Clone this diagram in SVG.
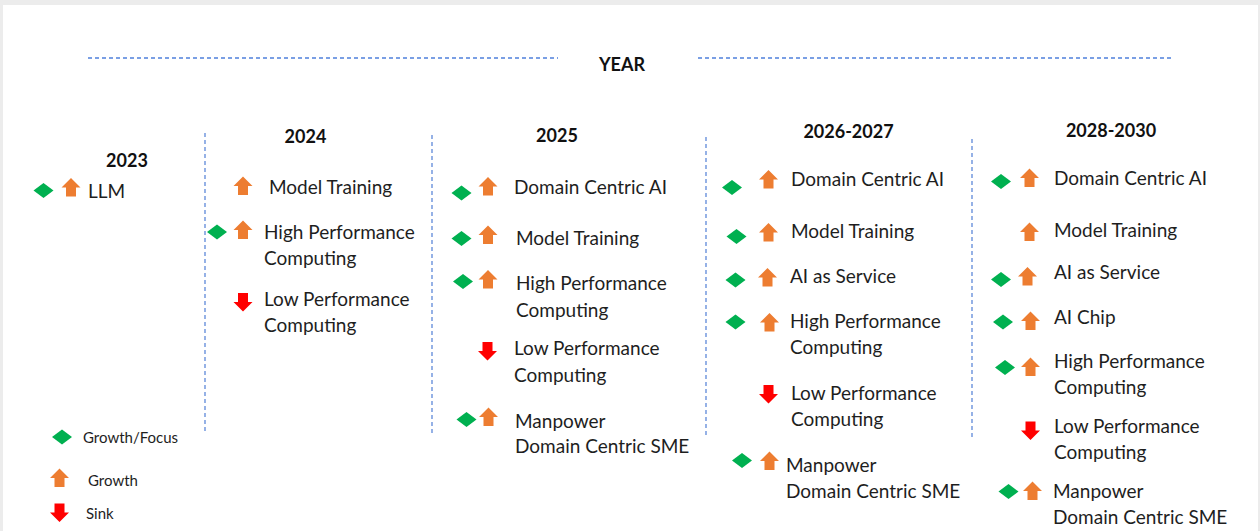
<svg xmlns="http://www.w3.org/2000/svg" width="1260" height="531" viewBox="0 0 1260 531">
  <defs>
    <style>
      .t { font-family: Lato, "Liberation Sans", sans-serif; font-size: 19px; fill: #1e1e1e; }
      .h { font-family: Lato, "Liberation Sans", sans-serif; font-size: 18px; font-weight: bold; fill: #111; }
      .lg { font-family: Lato, "Liberation Sans", sans-serif; font-size: 15px; fill: #1e1e1e; }
      .sep { stroke: #7c9fe0; stroke-width: 1.6; stroke-dasharray: 4 3; fill: none; }
      .axis { stroke: #4f80dc; stroke-width: 1.4; stroke-dasharray: 4 3; fill: none; }
    </style>
    <path id="dia" d="M-10,0 L0,-7.5 L10,0 L0,7.5 Z" fill="#00b050"/>
    <path id="up" d="M0,-9.5 L9.5,0 L5,0 L5,9 L-5,9 L-5,0 L-9.5,0 Z" fill="#ed7d31"/>
    <path id="down" d="M0,9.5 L9.5,0 L5,0 L5,-9 L-5,-9 L-5,0 L-9.5,0 Z" fill="#ff0000"/>
  </defs>

  <!-- page frame -->
  <rect x="0" y="0" width="1260" height="531" fill="#ececec"/>
  <rect x="3" y="5" width="1255" height="526" fill="#ffffff"/>

  <!-- axis and column separators -->
  <g id="connectors">
    <line class="axis" x1="88" y1="58" x2="558" y2="58"/>
    <line class="axis" x1="698" y1="58" x2="1172" y2="58"/>
    <line class="sep" x1="205" y1="133" x2="205" y2="433"/>
    <line class="sep" x1="432" y1="135" x2="432" y2="435"/>
    <line class="sep" x1="706" y1="137" x2="706" y2="436"/>
    <line class="sep" x1="972" y1="139" x2="972" y2="437"/>
  </g>

  <g id="title">
    <text class="h" x="622" y="71" text-anchor="middle">YEAR</text>
  </g>

  <!-- 2023 -->
  <g id="col-2023">
    <text class="h" x="127" y="167" text-anchor="middle">2023</text>
    <use href="#dia" x="43.5" y="190.5"/>
    <use href="#up" x="71" y="187.5"/>
    <text class="t" x="88" y="198">LLM</text>
  </g>

  <!-- 2024 -->
  <g id="col-2024">
    <text class="h" x="305.5" y="143" text-anchor="middle">2024</text>
    <use href="#up" x="243" y="186"/>
    <text class="t" x="269" y="194">Model Training</text>
    <use href="#dia" x="217" y="232"/>
    <use href="#up" x="243" y="230"/>
    <text class="t" x="264" y="239">High Performance</text>
    <text class="t" x="264" y="265">Computing</text>
    <use href="#down" x="243" y="302"/>
    <text class="t" x="264" y="306">Low Performance</text>
    <text class="t" x="264" y="332">Computing</text>
  </g>

  <!-- 2025 -->
  <g id="col-2025">
    <text class="h" x="557" y="142" text-anchor="middle">2025</text>
    <use href="#dia" x="461.5" y="193"/>
    <use href="#up" x="488" y="186.5"/>
    <text class="t" x="514" y="194">Domain Centric AI</text>
    <use href="#dia" x="461.5" y="238.5"/>
    <use href="#up" x="488" y="235"/>
    <text class="t" x="516" y="245">Model Training</text>
    <use href="#dia" x="463" y="281.5"/>
    <use href="#up" x="488" y="279.5"/>
    <text class="t" x="516" y="290">High Performance</text>
    <text class="t" x="516" y="317">Computing</text>
    <use href="#down" x="487.5" y="351"/>
    <text class="t" x="514" y="355">Low Performance</text>
    <text class="t" x="514" y="382">Computing</text>
    <use href="#dia" x="466.5" y="419.5"/>
    <use href="#up" x="488.5" y="417"/>
    <text class="t" x="515" y="428">Manpower</text>
    <text class="t" x="515" y="453">Domain Centric SME</text>
  </g>

  <!-- 2026-2027 -->
  <g id="col-2026-2027">
    <text class="h" x="848.5" y="138" text-anchor="middle">2026-2027</text>
    <use href="#dia" x="732" y="187.5"/>
    <use href="#up" x="768.5" y="179.5"/>
    <text class="t" x="791" y="186">Domain Centric AI</text>
    <use href="#dia" x="736.5" y="236.5"/>
    <use href="#up" x="768.5" y="232.5"/>
    <text class="t" x="791" y="238">Model Training</text>
    <use href="#dia" x="735.5" y="280"/>
    <use href="#up" x="767.5" y="277.5"/>
    <text class="t" x="790" y="283">AI as Service</text>
    <use href="#dia" x="735.5" y="322"/>
    <use href="#up" x="769.5" y="322.5"/>
    <text class="t" x="790" y="328">High Performance</text>
    <text class="t" x="790" y="354">Computing</text>
    <use href="#down" x="768.5" y="394"/>
    <text class="t" x="791" y="400">Low Performance</text>
    <text class="t" x="791" y="426">Computing</text>
    <use href="#dia" x="742" y="460.5"/>
    <use href="#up" x="769.5" y="461"/>
    <text class="t" x="786" y="472">Manpower</text>
    <text class="t" x="786" y="498">Domain Centric SME</text>
  </g>

  <!-- 2028-2030 -->
  <g id="col-2028-2030">
    <text class="h" x="1111" y="137" text-anchor="middle">2028-2030</text>
    <use href="#dia" x="1001" y="181.5"/>
    <use href="#up" x="1029.5" y="178"/>
    <text class="t" x="1054" y="185">Domain Centric AI</text>
    <use href="#up" x="1029.5" y="232"/>
    <text class="t" x="1054" y="237">Model Training</text>
    <use href="#dia" x="1001" y="279.5"/>
    <use href="#up" x="1027.5" y="276.5"/>
    <text class="t" x="1054" y="279">AI as Service</text>
    <use href="#dia" x="1003" y="322"/>
    <use href="#up" x="1030.5" y="321"/>
    <text class="t" x="1054" y="324">AI Chip</text>
    <use href="#dia" x="1005" y="367.5"/>
    <use href="#up" x="1030.5" y="367"/>
    <text class="t" x="1054" y="368">High Performance</text>
    <text class="t" x="1054" y="394">Computing</text>
    <use href="#down" x="1030.5" y="430.5"/>
    <text class="t" x="1054" y="433">Low Performance</text>
    <text class="t" x="1054" y="459">Computing</text>
    <use href="#dia" x="1008.5" y="491.5"/>
    <use href="#up" x="1032.5" y="491"/>
    <text class="t" x="1053" y="498">Manpower</text>
    <text class="t" x="1053" y="524">Domain Centric SME</text>
  </g>

  <!-- legend -->
  <g id="legend">
    <use href="#dia" x="62" y="437"/>
    <text class="lg" x="83" y="443">Growth/Focus</text>
    <use href="#up" x="59.5" y="478"/>
    <text class="lg" x="88" y="486">Growth</text>
    <use href="#down" x="59.5" y="512.5"/>
    <text class="lg" x="86" y="519">Sink</text>
  </g>
</svg>
